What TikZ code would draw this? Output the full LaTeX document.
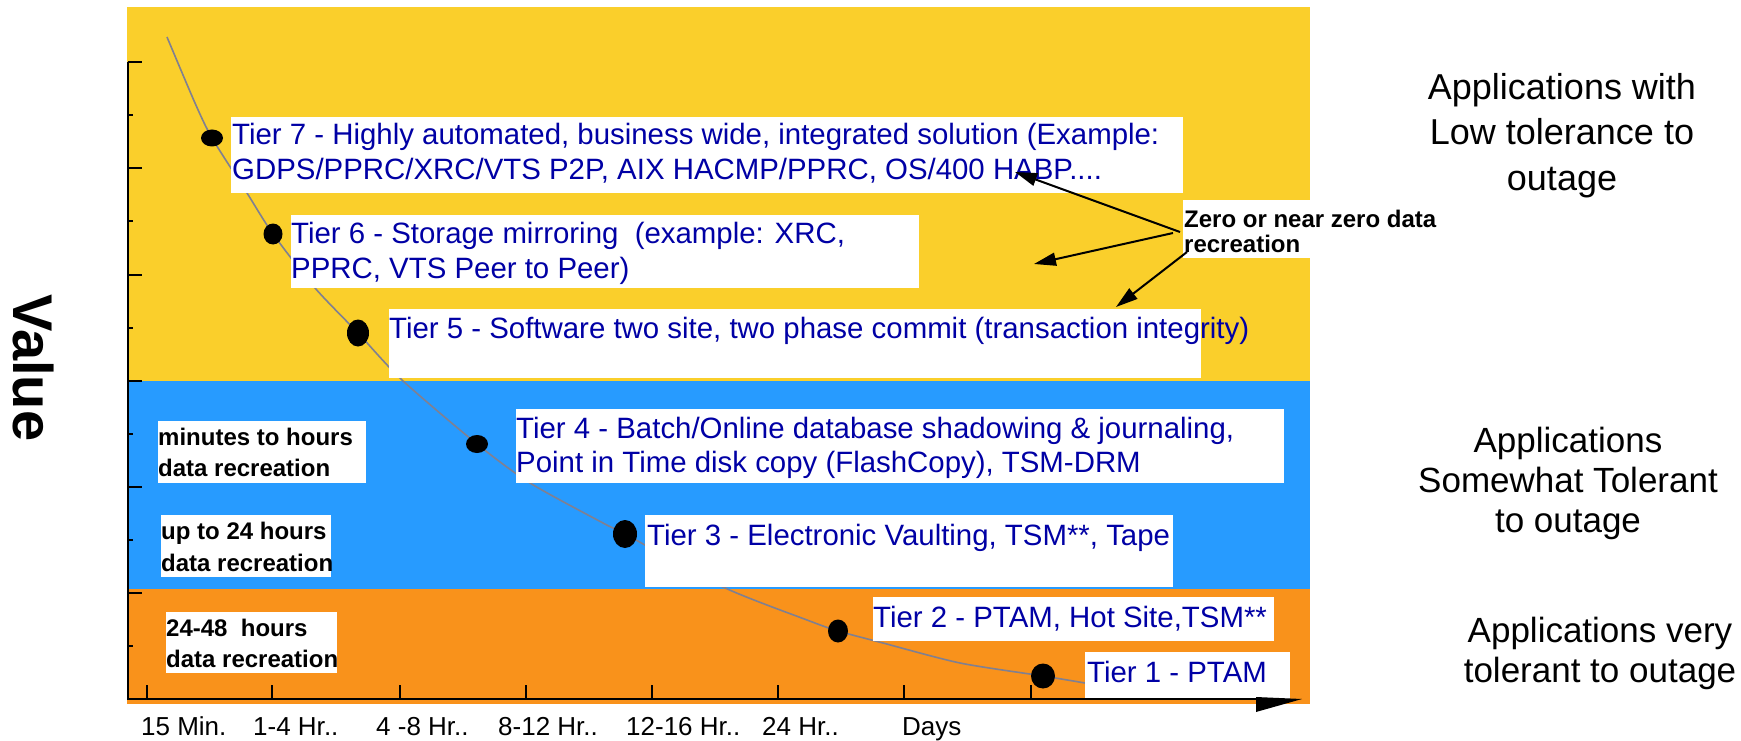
\documentclass[tikz,border=0pt]{standalone}
\usepackage{fontspec}
\setmainfont{Liberation Sans}
\usetikzlibrary{arrows.meta,shapes.geometric}
\definecolor{bandY}{RGB}{250,207,43}
\definecolor{bandB}{RGB}{39,155,255}
\definecolor{bandO}{RGB}{249,146,27}
\definecolor{tierblue}{RGB}{0,0,165}
\definecolor{curvegrey}{RGB}{128,128,145}
\begin{document}
\begin{tikzpicture}[x=1pt,y=-1pt,
  tier/.style={anchor=base west, inner sep=0pt, text=tierblue, font=\fontsize{29.4}{34}\selectfont},
  note/.style={anchor=base west, inner sep=0pt, font=\bfseries\fontsize{24}{28}\selectfont},
  side/.style={anchor=base, inner sep=0pt, font=\fontsize{35}{40}\selectfont},
  xlab/.style={anchor=base west, inner sep=0pt, font=\fontsize{26}{30}\selectfont},
  wbox/.style={fill=white},
  tdot/.style={ellipse, fill=black, inner sep=0pt},
  ptr/.style={-{Triangle[length=22pt,width=13pt]}, line width=2pt},
]
\useasboundingbox (0,0) rectangle (1741,741);
% bands
\fill[bandY] (127,7) rectangle (1310,381);
\fill[bandB] (127,381) rectangle (1310,589);
\fill[bandO] (127,589) rectangle (1310,704);
% curve
\draw[curvegrey, line width=1.6pt] plot[smooth, tension=0.45] coordinates {
 (167,37) (195,103) (212,138) (247,193) (273,234) (315,288) (358,333)
 (402,380) (477,444) (530,483) (603,523) (625,534) (723,587) (807,620)
 (838,631) (883,643) (960,663) (1043,676) (1085,683)};
% white boxes
\fill[wbox] (231,117) rectangle (1183,193);
\fill[wbox] (291,215) rectangle (919,288);
\fill[wbox] (389,309) rectangle (1201,378);
\fill[wbox] (516,409) rectangle (1284,483);
\fill[wbox] (645,515) rectangle (1173,587);
\fill[wbox] (873,597) rectangle (1274,641);
\fill[wbox] (1085,652) rectangle (1290,699);
\fill[wbox] (158,421) rectangle (366,483);
\fill[wbox] (161,515) rectangle (331,577);
\fill[wbox] (166,612) rectangle (337,673);
\fill[wbox] (1183,200) rectangle (1445,258);
% axes
\draw[line width=2.2pt] (128,62) -- (128,699) -- (1257,699);
\fill (1256,697) -- (1302,699) -- (1256,712) -- cycle;
\foreach \yy in {62,168,275,381,487,593} \draw[line width=2pt] (128,\yy) -- (142,\yy);
\foreach \yy in {115,221,328,434,540,646} \draw[line width=2pt] (128,\yy) -- (133,\yy);
\foreach \xx in {147,272,400,526,652,778,904,1031} \draw[line width=1.8pt] (\xx,685) -- (\xx,699);
% dots
\node[tdot, minimum width=22pt, minimum height=17pt] (d7) at (212,138) {};
\node[tdot, minimum width=19pt, minimum height=21pt] (d6) at (273,234) {};
\node[tdot, minimum width=22pt, minimum height=27pt] (d5) at (358,333) {};
\node[tdot, minimum width=22pt, minimum height=18pt] (d4) at (477,444) {};
\node[tdot, minimum width=24pt, minimum height=28pt] (d3) at (625,534) {};
\node[tdot, minimum width=20pt, minimum height=23pt] (d2) at (838,631) {};
\node[tdot, minimum width=24pt, minimum height=25pt] (d1) at (1043,676) {};
% tier texts
\node[tier] (t7a) at (232,145) {Tier 7 - Highly automated, business wide, integrated solution (Example:};
\node[tier] (t7b) at (232,179) {GDPS/PPRC/XRC/VTS P2P, AIX HACMP/PPRC, OS/400 HABP....};
\node[tier] (t6a) at (291,243) {Tier 6 - Storage mirroring\ \ (example: XRC,};
\node[tier] (t6b) at (291,278) {PPRC, VTS Peer to Peer)};
\node[tier] (t5) at (389,338) {Tier 5 - Software two site, two phase commit (transaction integrity)};
\node[tier] (t4a) at (516,438) {Tier 4 - Batch/Online database shadowing \& journaling,};
\node[tier] (t4b) at (516,472) {Point in Time disk copy (FlashCopy), TSM-DRM};
\node[tier] (t3) at (647,545) {Tier 3 - Electronic Vaulting, TSM**, Tape};
\node[tier] (t2) at (873,627) {Tier 2 - PTAM, Hot Site,TSM**};
\node[tier] (t1) at (1087,682) {Tier 1 - PTAM};
% notes
\node[note] (n1a) at (158,445) {minutes to hours};
\node[note] (n1b) at (158,476) {data recreation};
\node[note] (n2a) at (161,539) {up to 24 hours};
\node[note] (n2b) at (161,571) {data recreation};
\node[note] (n3a) at (166,636) {24-48\ \ hours};
\node[note] (n3b) at (166,667) {data recreation};
\node[note] (za) at (1184,227) {Zero or near zero data};
\node[note] (zb) at (1184,252) {recreation};
% arrows
\coordinate (z1s) at (1180,232);
\coordinate (z1e) at (1015,172);
\coordinate (z2s) at (1173,233);
\coordinate (z2e) at (1034,264);
\coordinate (z3s) at (1187,252);
\coordinate (z3e) at (1116,307);
\draw[ptr] (z1s) -- (z1e);
\draw[ptr] (z2s) -- (z2e);
\draw[ptr] (z3s) -- (z3e);
% side texts
\node[side, font=\fontsize{36}{40}\selectfont] (s1a) at (1562,100) {Applications with};
\node[side, font=\fontsize{36}{40}\selectfont] (s1b) at (1562,145) {Low tolerance to};
\node[side, font=\fontsize{36}{40}\selectfont] (s1c) at (1562,190) {outage};
\node[side] (s2a) at (1568,452) {Applications};
\node[side] (s2b) at (1568,492) {Somewhat Tolerant};
\node[side] (s2c) at (1568,532) {to outage};
\node[side] (s3a) at (1600,642) {Applications very};
\node[side] (s3b) at (1600,682) {tolerant to outage};
% axis labels
\node[rotate=-90, anchor=base, inner sep=0pt, font=\bfseries\fontsize{56}{60}\selectfont] (val) at (13,368) {Value};
\node[xlab] (x1) at (141,735) {15 Min.};
\node[xlab] (x2) at (253,735) {1-4 Hr..};
\node[xlab] (x3) at (376,735) {4 -8 Hr..};
\node[xlab] (x4) at (498,735) {8-12 Hr..};
\node[xlab] (x5) at (626,735) {12-16 Hr..};
\node[xlab] (x6) at (762,735) {24 Hr..};
\node[xlab] (x7) at (902,735) {Days};
\end{tikzpicture}
\end{document}
